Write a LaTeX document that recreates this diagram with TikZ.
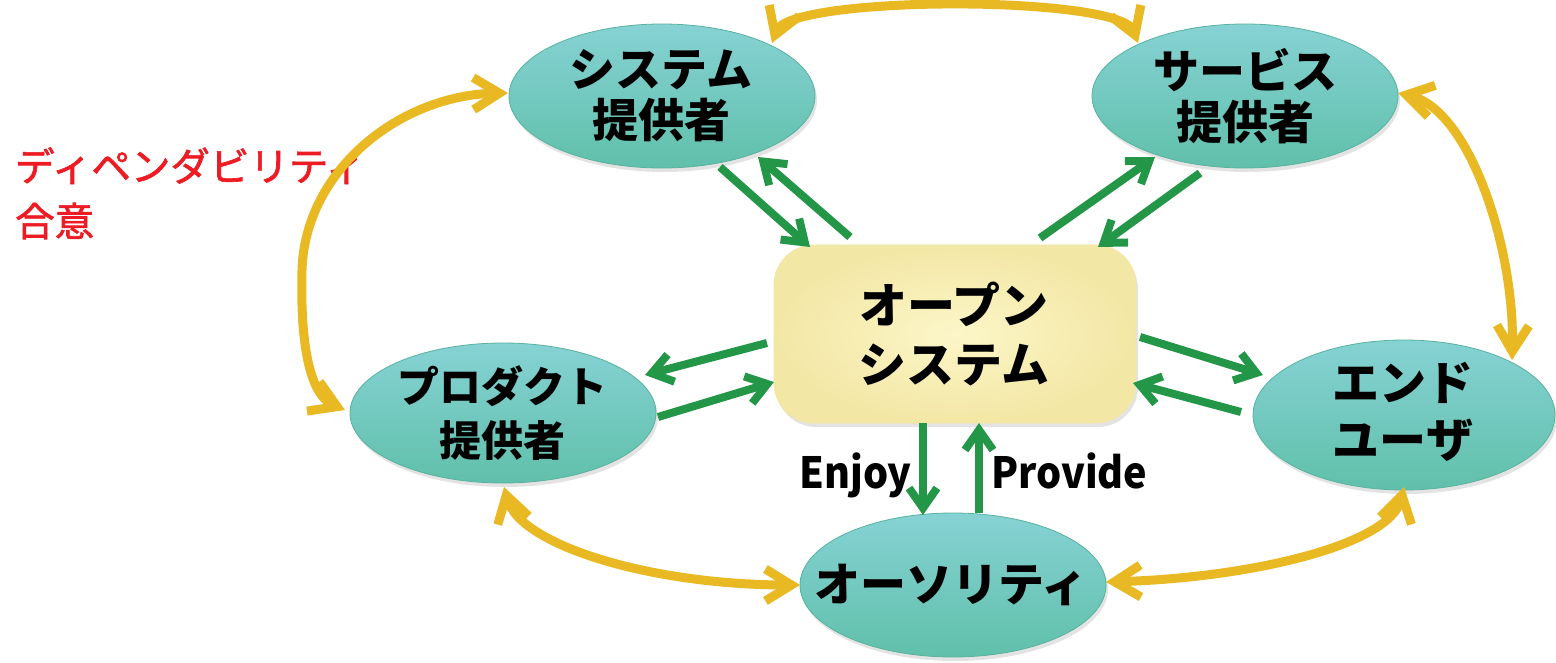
\documentclass[tikz,border=0pt]{standalone}
\usepackage{fontspec}
\newfontfamily\jp{Noto Sans CJK JP}
\newfontfamily\jpred{Noto Sans CJK JP}[FakeBold=1.6]
\newfontfamily\jpn{Noto Sans CJK JP}[FakeStretch=0.92]
\usetikzlibrary{arrows.meta,shapes.geometric,shadows,calc}
\definecolor{gold}{RGB}{232,185,35}
\definecolor{grn}{RGB}{35,150,72}
\definecolor{tealtop}{RGB}{134,210,212}
\definecolor{tealbot}{RGB}{96,192,170}
\definecolor{tealrim}{RGB}{88,178,158}
\definecolor{boxin}{RGB}{252,246,200}
\definecolor{boxout}{RGB}{243,231,165}
\definecolor{redtxt}{RGB}{237,28,36}
\tikzset{
  party/.style={ellipse, minimum width=306pt, minimum height=144pt, inner sep=0pt,
    top color=tealtop, bottom color=tealbot, draw=tealrim, line width=0.8pt,
    drop shadow={shadow xshift=2pt, shadow yshift=-4pt, opacity=0.22}},
  openbox/.style={rectangle, rounded corners=40pt, minimum width=362pt, minimum height=178pt,
    inner sep=0pt, inner color=boxin, outer color=boxout, draw=boxout, line width=0.8pt,
    drop shadow={shadow xshift=2pt, shadow yshift=-4pt, opacity=0.22}},
  lbl/.style={font=\jp\bfseries\fontsize{46}{51}\selectfont, align=center, inner sep=0pt},
  enlbl/.style={font=\jpn\bfseries\fontsize{43}{50}\selectfont, inner sep=0pt},
  redlbl/.style={font=\jpred\fontsize{39.5}{55}\selectfont, text=redtxt, inner sep=0pt, anchor=base west},
  garrow/.style={draw=grn, line width=8pt, -{Straight Barb[length=20pt,width=28pt]}},
  yarrow/.style={draw=gold, line width=9pt,
    {Straight Barb[length=26pt,width=32pt]}-{Straight Barb[length=26pt,width=32pt]}}
}
\begin{document}
\begin{tikzpicture}[x=1pt,y=-1pt]
\useasboundingbox (0,0) rectangle (1556,663);
% nodes
\node[party] (sys) at (662,96) {};
\node[party] (srv) at (1245,96) {};
\node[party, minimum height=140pt] (prd) at (503,413) {};
\node[party, minimum width=302pt, minimum height=150pt] (end) at (1404,415) {};
\node[party] (auth) at (953,585) {};
\node[openbox] (open) at (955,334) {};
% labels
\node[lbl] (sysT) at (661,96) {システム\\提供者};
\node[lbl] (srvT) at (1245,96) {サービス\\提供者};
\node[lbl, font=\jp\bfseries\fontsize{42}{54}\selectfont] (prdT) at (502,413) {プロダクト\\提供者};
\node[lbl, font=\jp\bfseries\fontsize{47}{57}\selectfont] (endT) at (1403,412) {エンド\\ユーザ};
\node[lbl] (authT) at (951,585) {オーソリティ};
\node[lbl, font=\jp\bfseries\fontsize{48}{59}\selectfont] (openT) at (954,334) {オープン\\システム};
\node[enlbl, anchor=base east] (enjoyT) at (912,488) {Enjoy};
\node[enlbl, anchor=base west] (provT) at (991,488) {Provide};
\node[redlbl] (dep1) at (15,181) {ディペンダビリティ};
\node[redlbl] (dep2) at (15,236) {合意};
% green arrows
\draw[garrow] ($(sys.center)+(58,71)$) -- ($(open.center)+(-145,-87)$);
\draw[garrow] ($(open.center)+(-105,-97)$) -- ($(sys.center)+(96,61)$);
\draw[garrow] ($(open.center)+(85,-96)$) -- ($(srv.center)+(-90,61)$);
\draw[garrow] ($(srv.center)+(-45,77)$) -- ($(open.center)+(143,-87)$);
\draw[garrow] ($(open.center)+(-188,9)$) -- ($(prd.center)+(142,-38)$);
\draw[garrow] ($(prd.center)+(155,4)$) -- ($(open.center)+(-181,48)$);
\draw[garrow] ($(open.center)+(185,3)$) -- ($(end.center)+(-141,-40)$);
\draw[garrow] ($(end.center)+(-163,-3)$) -- ($(open.center)+(178,49)$);
\draw[garrow] ($(open.center)+(-32,89)$) -- ($(auth.center)+(-30,-70)$);
\draw[garrow] ($(auth.center)+(26,-72)$) -- ($(open.center)+(24,89)$);
% yellow arrows
\draw[yarrow] ($(sys.center)+(110,-53)$) .. controls (790,-5) and (1120,-5) .. ($(srv.center)+(-107,-53)$);
\draw[yarrow] ($(sys.center)+(-154,-3)$) .. controls (400,95) and (305,170) .. (302,270)
  .. controls (300,345) and (310,395) .. ($(prd.center)+(-158,-3)$);
\draw[yarrow] ($(srv.center)+(153,-3)$) .. controls (1470,110) and (1515,250) .. ($(end.center)+(108,-55)$);
\draw[yarrow] ($(prd.center)+(1,74)$) .. controls (520,545) and (650,585) .. ($(auth.center)+(-153,0)$);
\draw[yarrow] ($(auth.center)+(153,-3)$) .. controls (1250,578) and (1390,545) .. ($(end.center)+(0,72)$);
\end{tikzpicture}
\end{document}
